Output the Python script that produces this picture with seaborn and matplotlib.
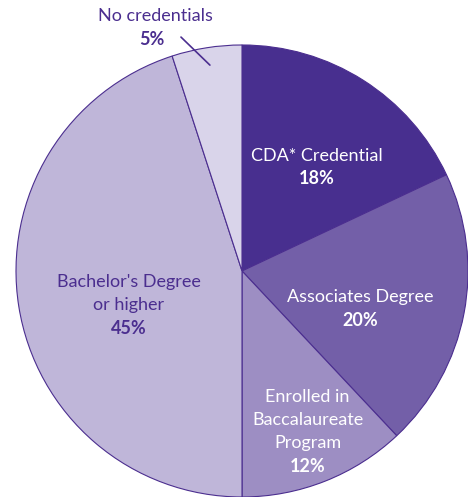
import matplotlib
matplotlib.use("Agg")
import matplotlib.pyplot as plt
import seaborn as sns

# data
categorias = ["CDA* Credential", "Associates Degree", "Enrolled in\nBaccalaureate\nProgram",
              "Bachelor's Degree\nor higher", "No credentials"]
porcentajes = [18, 20, 12, 45, 5]
colores = ["#482F8F", "#735FA8", "#9D8EC3", "#BFB6D9", "#D9D4EA"]
color_texto = ["white", "white", "white", "#4B2E8F", "#4B2E8F"]

sns.set_theme(style="white")
plt.rcParams["font.family"] = ["Lato", "DejaVu Sans"]

fig = plt.figure(figsize=(4.68, 4.97), dpi=100)
ax = fig.add_axes([0, 0, 1, 1])

ax.pie(
    porcentajes,
    colors=colores,
    startangle=90,
    counterclock=False,
    radius=1.0,
    wedgeprops=dict(edgecolor="#4B2E8F", linewidth=0.8),
)

# posiciones de etiquetas (centro del texto)
pos = [(0.33, 0.51), (0.525, -0.115), (0.29, -0.66), (-0.50, -0.10), (-0.385, 1.128)]
fs = 13

for i, (cat, pct) in enumerate(zip(categorias, porcentajes)):
    x, y = pos[i]
    n = cat.count("\n") + 1
    paso = 0.102
    if i == 4:
        ax.text(x, y, cat, ha="center", va="center", fontsize=fs, color=color_texto[i])
        ax.text(x - 0.015, y - paso, f"{pct}%", ha="center", va="center",
                fontsize=fs, fontweight="bold", color=color_texto[i])
        continue
    top = y + (n * paso) / 2 - paso / 2 if i != 0 else y
    for k, linea in enumerate(cat.split("\n")):
        ax.text(x, top - k * paso, linea, ha="center", va="center", fontsize=fs,
                color=color_texto[i])
    ax.text(x, top - n * paso, f"{pct}%", ha="center", va="center", fontsize=fs,
            fontweight="bold", color=color_texto[i])

# linea guia "No credentials"
ax.plot([-0.270, -0.142], [1.035, 0.911], color="#4B2E8F", linewidth=1.2)

ax.set_aspect("equal")
ax.set_xlim(-1.0708, 1.0)
ax.set_ylim(-1.0, 1.199)
ax.axis("off")

plt.savefig("out.png", dpi=100)
plt.close()
